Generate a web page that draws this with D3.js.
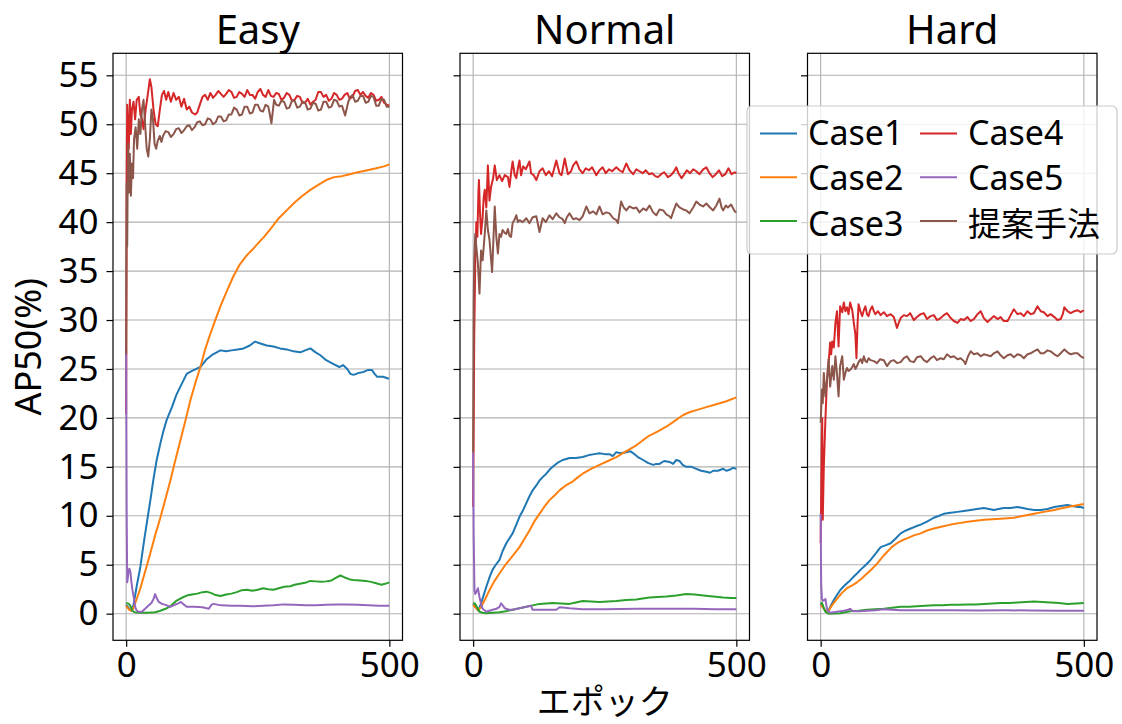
<!DOCTYPE html>
<html><head><meta charset="utf-8">
<script src="https://cdn.jsdelivr.net/npm/d3@7"></script>
<style>html,body{margin:0;padding:0;background:#fff;}svg{display:block;}</style>
</head><body>
<script>
// ---------- data ----------
const panels = ["Easy", "Normal", "Hard"];
const seriesNames = ["Case1", "Case2", "Case3", "Case4", "Case5", "提案手法"];
const seriesColors = ["#1f77b4", "#ff7f0e", "#2ca02c", "#d62728", "#9467bd", "#8c564b"];
const yTicks = [0, 5, 10, 15, 20, 25, 30, 35, 40, 45, 50, 55];
const xTicks = [0, 500];
const xLabel = "エポック";
const yLabel = "AP50(%)";

// [epoch, AP50]
const easyCase1 = [[0,0.9],[6,0.5],[10,0.3],[14,0.9],[20,2.8],[27,4.8],[35,7.8],[46,11.6],[52,13.8],[58,15.7],[65,17.4],[71,18.7],[77,19.8],[87,21.1],[95,22.3],[103,23.2],[115,24.5],[125,24.8],[141,25.2],[153,26.0],[165,26.5],[179,26.9],[190,26.8],[200,26.9],[212,27.0],[223,27.1],[235,27.4],[245,27.8],[255,27.6],[267,27.4],[280,27.3],[292,27.1],[305,27.0],[318,26.8],[331,26.7],[340,26.9],[350,27.1],[360,26.7],[369,26.4],[380,25.9],[394,25.5],[405,25.2],[412,25.4],[420,25.0],[426,24.5],[432,24.4],[442,24.6],[451,24.7],[460,24.9],[467,24.9],[472,24.5],[477,24.2],[488,24.2],[499,24.0]];
const easyCase2 = [[0,0.8],[6,0.4],[11,0.3],[14,0.6],[20,1.5],[27,2.6],[35,4.1],[46,6.2],[55,8.0],[65,9.8],[75,11.8],[84,13.6],[94,15.8],[103,17.7],[113,19.8],[122,21.8],[131,23.5],[141,25.2],[150,27.0],[160,28.6],[170,30.1],[179,31.4],[190,32.8],[204,34.5],[215,35.6],[229,36.6],[240,37.2],[250,37.8],[262,38.5],[277,39.5],[290,40.4],[305,41.2],[320,42.0],[335,42.7],[350,43.3],[365,43.8],[380,44.3],[395,44.6],[410,44.7],[425,44.9],[440,45.1],[458,45.3],[475,45.5],[490,45.7],[500,45.9]];
const easyCase3 = [[0,1.1],[5,1.0],[8,0.8],[12,0.3],[16,0.15],[25,0.1],[40,0.1],[55,0.15],[65,0.3],[75,0.5],[85,0.8],[95,1.3],[105,1.6],[115,1.85],[125,1.95],[135,2.05],[145,2.2],[153,2.25],[162,2.1],[170,1.9],[179,1.8],[190,1.95],[200,2.05],[210,2.2],[220,2.4],[229,2.45],[240,2.35],[250,2.45],[260,2.6],[270,2.5],[280,2.45],[290,2.6],[300,2.75],[312,2.8],[320,2.95],[330,3.05],[340,3.15],[350,3.35],[360,3.3],[370,3.25],[380,3.3],[390,3.4],[400,3.7],[407,3.9],[415,3.7],[425,3.5],[432,3.45],[445,3.4],[455,3.35],[465,3.25],[475,3.1],[485,2.95],[492,3.05],[500,3.2]];
const easyCase4 = [[0,20.4],[1,45],[2,52],[3,50],[5,47.5],[7,52.5],[9,49],[11,51.5],[14,52.3],[17,50.5],[20,52.5],[24,52.8],[27,51],[30,50.5],[33,49.5],[37,51.5],[41,53],[45,54.6],[48,53.8],[52,51.5],[56,50],[60,49.8],[64,51.5],[68,53],[72,53.4],[76,52.5],[80,53.3],[85,52.3],[90,53.2],[95,52.5],[100,52.8],[105,51.8],[110,52.6],[115,51.5],[120,51.8],[125,51.2],[131,51.0],[135,51.2],[140,52.0],[145,52.8],[150,53.0],[155,52.5],[160,53.2],[165,52.7],[170,53.0],[175,53.4],[180,53.1],[185,52.8],[190,53.1],[195,53.5],[200,53.3],[205,52.7],[210,52.8],[215,53.3],[220,53.1],[225,52.8],[230,53.5],[235,53.0],[240,53.0],[245,52.6],[250,53.3],[255,53.6],[260,53.0],[265,52.8],[270,53.5],[275,52.9],[280,52.8],[285,53.2],[290,53.1],[295,52.5],[300,52.7],[305,53.2],[310,53.0],[315,52.4],[320,52.5],[325,52.9],[330,52.8],[335,52.2],[340,52.2],[345,52.6],[350,52.0],[355,52.3],[360,52.5],[365,53.3],[370,53.3],[375,52.8],[380,53.0],[385,52.4],[390,52.6],[395,53.2],[400,53.0],[405,52.5],[410,52.6],[415,53.0],[420,53.2],[425,52.6],[430,52.8],[435,53.4],[440,53.5],[445,53.0],[450,53.3],[455,52.9],[460,52.7],[465,53.2],[470,53.0],[475,52.4],[480,52.5],[485,52.8],[490,52.2],[495,52.0],[500,51.9]];
const easyCase5 = [[0,27],[1,10],[2,3.2],[3,3.6],[4,4.1],[6,4.6],[8,4.3],[10,3.2],[12,2.4],[14,1.8],[17,0.7],[20,0.3],[23,0.2],[30,0.2],[36,0.5],[42,0.8],[48,1.1],[52,1.5],[55,2.0],[58,1.6],[62,1.2],[68,1.0],[75,0.9],[84,0.7],[92,0.9],[99,1.05],[104,1.2],[108,1.0],[115,0.7],[130,0.7],[145,0.65],[157,0.5],[162,0.9],[166,1.0],[180,0.85],[200,0.8],[217,0.8],[240,0.75],[260,0.8],[280,0.85],[300,0.95],[320,0.9],[340,0.85],[360,0.85],[380,0.9],[400,0.95],[420,0.95],[440,0.9],[460,0.85],[480,0.8],[500,0.8]];
const easyProposed = [[0,26.5],[1,44],[2,37.5],[3,45],[4,48],[5,43],[7,47],[9,42.7],[11,46],[13,44.5],[15,48.5],[18,49.7],[21,47.5],[24,50.5],[27,49],[30,51.5],[33,52.5],[36,50],[39,47.5],[42,46.7],[45,48.5],[48,51.5],[51,50.5],[54,48],[57,47.5],[60,48.3],[64,48.8],[67,48.2],[70,48.8],[75,49.3],[80,49.2],[85,48.7],[90,49.0],[95,49.5],[100,49.6],[105,49.1],[110,49.4],[115,49.8],[120,49.9],[125,49.4],[130,49.7],[135,50.2],[140,50.3],[145,49.9],[150,50.0],[155,50.6],[160,50.5],[165,50.0],[170,50.2],[175,50.8],[180,50.8],[185,50.3],[190,50.4],[195,51.0],[200,51.0],[205,51.7],[210,51.5],[215,50.9],[220,51.0],[225,51.8],[230,51.8],[235,51.1],[240,51.2],[245,52.0],[250,52.0],[255,51.4],[260,51.3],[265,52.0],[270,51.8],[273,51.0],[276,50.1],[281,52.5],[285,52.0],[290,51.9],[295,52.4],[300,52.3],[305,51.6],[310,51.7],[315,52.4],[320,52.4],[325,51.7],[330,51.8],[335,52.3],[340,52.2],[345,51.5],[350,51.6],[355,52.2],[360,52.1],[365,51.4],[370,51.5],[375,52.3],[380,52.3],[385,51.7],[390,51.8],[395,52.5],[400,52.4],[405,51.8],[410,51.9],[416,50.9],[422,52.3],[426,52.8],[430,53.0],[435,52.3],[440,52.4],[445,52.9],[450,52.9],[455,52.2],[460,52.3],[465,52.9],[470,52.8],[475,51.9],[480,51.9],[485,52.6],[490,52.5],[495,51.8],[500,51.8]];

const normalCase1 = [[0,1.0],[5,0.6],[10,0.3],[15,1.05],[20,1.9],[25,2.75],[31,3.7],[37,4.5],[43,5.0],[50,5.5],[56,6.4],[63,7.2],[69,7.7],[75,8.2],[82,9.1],[88,9.9],[95,10.6],[101,11.3],[107,12.0],[113,12.6],[120,13.1],[126,13.6],[133,14.0],[139,14.3],[145,14.7],[151,15.0],[160,15.4],[170,15.7],[183,15.9],[195,15.9],[208,16.0],[220,16.2],[230,16.3],[240,16.4],[250,16.3],[259,16.3],[265,16.1],[272,16.5],[280,16.4],[291,16.5],[298,16.6],[304,16.4],[313,16.0],[323,15.7],[332,15.4],[342,15.2],[348,15.3],[354,15.3],[363,15.6],[373,15.5],[380,15.3],[386,15.7],[392,15.6],[398,15.2],[405,15.0],[415,15.0],[424,14.8],[433,14.6],[443,14.5],[450,14.4],[456,14.6],[465,14.6],[475,14.8],[481,14.6],[487,14.7],[494,14.9],[500,14.8]];
const normalCase2 = [[0,0.9],[5,0.6],[10,0.35],[15,0.7],[22,1.4],[31,2.4],[40,3.3],[50,4.1],[60,4.9],[69,5.5],[78,6.1],[88,6.8],[97,7.6],[107,8.5],[116,9.4],[126,10.2],[135,10.9],[145,11.6],[155,12.1],[164,12.6],[176,13.1],[189,13.5],[198,13.9],[208,14.3],[224,14.8],[240,15.2],[256,15.6],[272,16.0],[291,16.6],[310,17.2],[322,17.7],[335,18.2],[350,18.6],[367,19.1],[383,19.7],[399,20.3],[412,20.6],[424,20.8],[443,21.1],[462,21.4],[481,21.7],[500,22.1]];
const normalCase3 = [[0,1.1],[3,1.05],[7,0.7],[12,0.2],[18,0.1],[25,0.05],[37,0.1],[50,0.15],[62,0.25],[75,0.4],[88,0.55],[101,0.7],[113,0.85],[126,1.0],[139,1.05],[151,1.1],[167,1.05],[183,1.0],[195,1.15],[208,1.3],[224,1.25],[240,1.2],[256,1.25],[272,1.3],[291,1.4],[310,1.45],[322,1.55],[335,1.65],[351,1.7],[367,1.75],[386,1.85],[405,2.0],[421,1.95],[437,1.85],[456,1.75],[475,1.65],[490,1.6],[500,1.6]];
const normalCase4 = [[0,10.9],[2,28],[4,36],[6,40],[8,38.5],[10,43],[11,44.3],[13,41],[15,38.8],[18,40.5],[20,42.5],[22,43.3],[25,41.5],[28,45.8],[31,42.2],[34,43.6],[38,44.5],[41,45.8],[45,44.3],[50,44.8],[55,44.2],[60,44.8],[66,44.6],[69,43.6],[72,45.0],[75,46.2],[79,44.8],[82,44.5],[85,45.5],[88,46.3],[91,44.8],[95,45.7],[100,45.4],[107,46.2],[110,45.0],[115,44.8],[120,44.3],[126,45.2],[132,45.5],[138,44.8],[144,45.2],[150,44.7],[158,46.3],[164,45.0],[168,44.8],[174,46.5],[180,44.9],[186,45.2],[190,45.8],[196,46.2],[202,45.4],[208,45.0],[214,45.5],[220,45.3],[226,45.6],[234,44.8],[240,45.3],[246,45.6],[252,45.0],[258,45.4],[264,45.2],[272,45.6],[278,45.3],[284,45.1],[291,46.0],[297,45.3],[304,44.9],[310,45.4],[316,45.2],[322,45.0],[328,45.3],[334,44.9],[340,45.0],[346,44.7],[351,44.6],[357,44.9],[363,45.1],[370,44.6],[376,44.8],[382,45.2],[386,45.6],[390,45.0],[396,44.5],[400,44.8],[406,45.3],[412,45.0],[418,45.4],[424,45.2],[430,44.9],[437,45.4],[443,45.6],[449,45.0],[455,44.6],[461,44.9],[467,45.3],[473,44.7],[479,44.9],[485,45.5],[491,44.9],[497,45.1],[500,45.0]];
const normalCase5 = [[0,16.5],[1,8],[2.5,2.4],[4,2.0],[6,2.2],[9,2.6],[12,1.7],[15,1.0],[18,0.5],[25,0.2],[31,0.3],[37,0.4],[44,0.5],[50,0.7],[53,1.05],[57,0.8],[60,0.55],[68,0.4],[75,0.4],[88,0.55],[101,0.7],[110,0.8],[113,0.4],[130,0.4],[158,0.4],[164,0.65],[175,0.6],[183,0.55],[208,0.45],[250,0.45],[310,0.5],[367,0.5],[420,0.5],[460,0.45],[500,0.45]];
const normalProposed = [[0,16.5],[1,32],[2,36.1],[4,38.8],[6,37.5],[9,35.8],[12,32.7],[15,37.1],[18,36.1],[22,38.8],[25,41.2],[28,39.2],[31,38.2],[36,34.9],[41,41.6],[44,38.5],[47,36.8],[50,38.8],[53,38.5],[56,39.2],[60,38.9],[63,38.8],[66,39.3],[69,38.6],[72,38.5],[75,39.9],[79,40.3],[82,40.7],[85,40.0],[88,40.2],[94,40.0],[101,40.4],[107,39.9],[113,40.5],[120,40.6],[126,39.0],[132,40.4],[138,40.0],[145,40.7],[151,40.3],[158,40.9],[164,40.5],[170,40.3],[174,39.9],[178,40.5],[183,40.9],[190,40.3],[196,40.4],[202,40.2],[208,40.6],[215,41.6],[221,40.9],[228,41.1],[234,40.8],[240,41.6],[246,40.8],[253,41.0],[259,40.9],[266,40.4],[272,40.2],[275,39.9],[281,42.1],[286,41.5],[291,41.2],[297,41.6],[304,41.4],[310,41.5],[316,41.0],[323,41.4],[329,41.2],[335,41.7],[342,41.0],[348,40.7],[354,41.3],[361,41.2],[367,40.8],[373,40.6],[376,40.4],[381,41.2],[386,41.9],[392,41.5],[399,41.3],[405,41.2],[411,40.9],[418,41.5],[424,42.1],[430,41.8],[437,41.6],[443,41.9],[450,41.5],[456,41.2],[462,41.7],[468,42.4],[472,41.5],[475,41.2],[480,41.7],[484,41.5],[490,41.8],[497,41.1],[500,41.0]];

const hardCase1 = [[0,1.0],[5,0.6],[10,0.2],[15,0.3],[20,0.9],[25,1.4],[31,1.9],[37,2.4],[44,2.8],[50,3.1],[56,3.4],[63,3.8],[69,4.1],[76,4.5],[82,4.8],[88,5.1],[95,5.5],[104,6.1],[114,6.8],[124,7.0],[133,7.2],[143,7.7],[152,8.2],[162,8.5],[171,8.7],[180,8.9],[190,9.1],[202,9.4],[215,9.8],[225,10.0],[234,10.2],[247,10.3],[260,10.4],[272,10.5],[285,10.6],[297,10.7],[310,10.8],[320,10.7],[329,10.6],[338,10.7],[348,10.8],[361,10.8],[374,10.9],[384,10.8],[393,10.7],[405,10.6],[418,10.6],[431,10.7],[444,10.9],[456,11.0],[469,11.1],[478,11.0],[488,10.9],[494,10.9],[500,10.8]];
const hardCase2 = [[0,0.9],[5,0.6],[10,0.2],[15,0.3],[22,0.9],[31,1.5],[40,2.1],[50,2.6],[60,2.9],[69,3.2],[78,3.6],[88,4.1],[98,4.6],[107,5.1],[116,5.7],[126,6.3],[135,6.8],[145,7.2],[155,7.5],[164,7.7],[177,8.0],[190,8.2],[202,8.5],[215,8.7],[231,8.9],[247,9.1],[263,9.25],[279,9.4],[295,9.5],[310,9.6],[326,9.65],[342,9.7],[355,9.75],[367,9.8],[386,10.0],[405,10.2],[424,10.4],[444,10.6],[456,10.75],[469,10.9],[485,11.05],[500,11.2]];
const hardCase3 = [[0,1.1],[2.5,1.1],[6,0.6],[9,0.2],[13,0.05],[18,0.0],[37,0.05],[56,0.25],[72,0.3],[88,0.4],[104,0.45],[120,0.5],[136,0.6],[152,0.7],[168,0.7],[183,0.75],[199,0.8],[215,0.85],[231,0.85],[247,0.9],[263,0.9],[279,0.95],[295,0.95],[310,1.0],[326,1.05],[342,1.1],[358,1.1],[374,1.15],[390,1.2],[405,1.25],[421,1.2],[437,1.15],[453,1.1],[469,1.0],[485,1.05],[500,1.1]];
const hardCase4 = [[0,7.2],[1,12],[2,17],[3,20],[4,9.6],[6,15],[9,19.8],[12,23.9],[15,25.5],[18,27.7],[20,26.5],[22,27.8],[25,27.2],[28,29.7],[31,30.9],[34,27.3],[37,31.4],[41,30.8],[44,31.8],[47,30.9],[50,31.3],[53,30.6],[56,31.8],[60,31.0],[63,29.7],[66,28.5],[68,26.1],[70,29.5],[72,31.6],[76,30.8],[79,30.4],[82,31.0],[85,31.4],[88,30.6],[91,30.4],[94,31.0],[98,31.4],[101,30.9],[104,30.6],[109,30.9],[114,30.5],[120,30.8],[126,30.4],[133,30.6],[139,30.3],[145,29.2],[149,29.8],[152,30.2],[158,30.5],[164,30.4],[170,30.7],[177,30.0],[183,30.3],[190,30.6],[196,30.7],[202,30.1],[209,30.4],[215,30.5],[221,30.0],[228,30.2],[234,30.5],[240,30.7],[247,30.2],[253,29.9],[260,29.7],[266,30.1],[272,30.0],[279,30.3],[285,29.9],[291,30.1],[298,30.6],[304,30.9],[310,30.2],[317,29.8],[323,30.1],[329,30.4],[336,30.1],[342,30.3],[348,29.9],[355,29.9],[361,30.5],[367,31.1],[374,30.6],[380,30.7],[386,30.4],[393,30.9],[399,30.6],[405,30.7],[412,31.4],[418,30.9],[424,30.8],[431,30.4],[437,30.6],[444,30.3],[450,30.0],[456,30.1],[460,30.6],[463,31.3],[469,30.9],[475,30.7],[482,30.9],[488,31.0],[494,30.8],[500,31.0]];
const hardCase5 = [[0,10.2],[1,3.0],[2.5,1.5],[4,1.3],[6,1.35],[9,1.5],[12,0.5],[15,0.2],[18,0.1],[25,0.15],[31,0.2],[44,0.3],[52,0.4],[56,0.5],[60,0.3],[63,0.25],[75,0.25],[88,0.3],[104,0.35],[120,0.45],[136,0.4],[152,0.35],[200,0.35],[250,0.35],[300,0.33],[350,0.35],[400,0.32],[450,0.3],[500,0.3]];
const hardProposed = [[0,19.5],[2.5,22.9],[4,21.5],[6,24.6],[9,22.2],[12,23.9],[15,26.0],[18,23.2],[22,25.3],[25,23.9],[28,26.3],[31,24.5],[34,22.2],[37,25.3],[41,26.3],[44,23.9],[47,24.6],[50,25.1],[53,24.8],[56,24.9],[60,25.2],[63,25.5],[66,25.0],[69,25.3],[72,25.7],[76,26.0],[79,25.6],[82,26.3],[85,25.8],[88,25.7],[91,26.1],[95,25.9],[101,25.8],[107,25.6],[113,26.0],[120,25.9],[126,25.3],[133,25.8],[139,25.9],[145,25.6],[152,25.7],[158,26.1],[164,26.3],[170,25.8],[177,25.7],[183,26.2],[190,26.3],[196,25.9],[202,25.7],[209,26.1],[215,26.3],[221,25.9],[228,26.1],[234,26.0],[240,26.5],[247,26.2],[253,26.3],[260,26.0],[266,26.1],[272,25.8],[275,25.5],[280,26.3],[285,26.8],[291,26.5],[298,26.6],[304,26.3],[310,26.5],[317,26.4],[323,26.3],[329,26.6],[336,26.8],[342,26.4],[348,26.1],[355,26.4],[361,26.5],[367,26.2],[374,26.5],[380,26.4],[386,26.1],[393,26.5],[399,26.6],[405,26.8],[412,27.0],[418,26.6],[424,26.6],[431,26.9],[437,26.8],[444,26.5],[450,26.3],[456,26.6],[463,27.0],[469,26.7],[475,26.5],[482,26.6],[488,26.6],[494,26.3],[500,26.1]];

const easySeries = [easyCase1, easyCase2, easyCase3, easyCase4, easyCase5, easyProposed];
const normalSeries = [normalCase1, normalCase2, normalCase3, normalCase4, normalCase5, normalProposed];
const hardSeries = [hardCase1, hardCase2, hardCase3, hardCase4, hardCase5, hardProposed];
const panelSeries = [easySeries, normalSeries, hardSeries];

// ---------- layout ----------
const W = 1122, H = 724;
const FONT = "'Noto Sans', 'Noto Sans CJK JP', sans-serif";
const CJK = "'Noto Sans CJK JP', 'Noto Sans', sans-serif";
const panelLefts = [113, 460, 807.5];
const panelW = 289.5;
const plotTop = 53.3, plotBottom = 640.3;
const tickFont = 35, titleFont = 40, yLabelFont = 36, xLabelFont = 34, legendFont = 34, legendCjkFont = 33;

const svg = d3.select("body").append("svg").attr("width", W).attr("height", H);
svg.append("rect").attr("width", W).attr("height", H).attr("fill", "#fff");

const yScale = d3.scaleLinear().domain([-2.72, 57.25]).range([plotBottom, plotTop]);

panels.forEach((name, pi) => {
  const left = panelLefts[pi];
  const xScale = d3.scaleLinear().domain([-25, 525]).range([left, left + panelW]);
  const g = svg.append("g");

  // grid
  g.selectAll(".hg").data(yTicks).join("line")
    .attr("x1", left).attr("x2", left + panelW)
    .attr("y1", d => yScale(d)).attr("y2", d => yScale(d))
    .attr("stroke", "#b0b0b0").attr("stroke-width", 1.1);
  g.selectAll(".vg").data(xTicks).join("line")
    .attr("x1", d => xScale(d)).attr("x2", d => xScale(d))
    .attr("y1", plotTop).attr("y2", plotBottom)
    .attr("stroke", "#b0b0b0").attr("stroke-width", 1.1);

  // lines
  const line = d3.line().x(d => xScale(d[0])).y(d => yScale(d[1]));
  panelSeries[pi].forEach((s, si) => {
    g.append("path").datum(s).attr("d", line)
      .attr("fill", "none").attr("stroke", seriesColors[si])
      .attr("stroke-width", 2).attr("stroke-linejoin", "round").attr("stroke-linecap", "butt");
  });

  // axes
  const yAxis = d3.axisLeft(yScale).tickValues(yTicks).tickSize(6.5).tickPadding(8)
    .tickFormat(pi === 0 ? d3.format("d") : () => "");
  const ya = svg.append("g").attr("transform", `translate(${left},0)`).call(yAxis);
  const xAxis = d3.axisBottom(xScale).tickValues(xTicks).tickSize(6.5).tickPadding(5).tickFormat(d3.format("d"));
  const xa = svg.append("g").attr("transform", `translate(0,${plotBottom})`).call(xAxis);
  [ya, xa].forEach(a => {
    a.select(".domain").remove();
    a.selectAll(".tick line").attr("stroke", "#000").attr("stroke-width", 1.2);
    a.selectAll(".tick text").attr("font-family", FONT).attr("font-size", tickFont).attr("fill", "#000");
  });

  // frame
  svg.append("rect").attr("x", left).attr("y", plotTop).attr("width", panelW).attr("height", plotBottom - plotTop)
    .attr("fill", "none").attr("stroke", "#000").attr("stroke-width", 1.2);

  // title
  svg.append("text").attr("x", left + panelW / 2).attr("y", 44)
    .attr("text-anchor", "middle").attr("font-family", FONT).attr("font-size", titleFont)
    .attr("fill", "#000").text(name);
});

// axis labels
svg.append("text").attr("x", panelLefts[1] + panelW / 2).attr("y", 714)
  .attr("text-anchor", "middle").attr("font-family", CJK).attr("font-size", xLabelFont).text(xLabel);
svg.append("text").attr("transform", `translate(40.5,${(plotTop + plotBottom) / 2}) rotate(-90)`)
  .attr("text-anchor", "middle").attr("font-family", FONT).attr("font-size", yLabelFont).text(yLabel);

// legend
const lg = svg.append("g");
lg.append("rect").attr("x", 747).attr("y", 106).attr("width", 370).attr("height", 148)
  .attr("rx", 5).attr("fill", "#fff").attr("fill-opacity", 0.8)
  .attr("stroke", "#cccccc").attr("stroke-width", 1.2);
const colX = [760, 920];
const rowTextShift = [-1, 0, 2.5];
seriesNames.forEach((n, i) => {
  const col = Math.floor(i / 3), row = i % 3;
  const cy = 133.5 + row * 43.7;
  lg.append("line").attr("x1", colX[col]).attr("x2", colX[col] + 37)
    .attr("y1", cy).attr("y2", cy).attr("stroke", seriesColors[i]).attr("stroke-width", 2);
  lg.append("text").attr("x", colX[col] + 48).attr("y", cy + 12.5 + rowTextShift[row])
    .attr("font-family", i === 5 ? CJK : FONT).attr("font-size", i === 5 ? legendCjkFont : legendFont)
    .attr("fill", "#000").text(n);
});
</script>
</body></html>
